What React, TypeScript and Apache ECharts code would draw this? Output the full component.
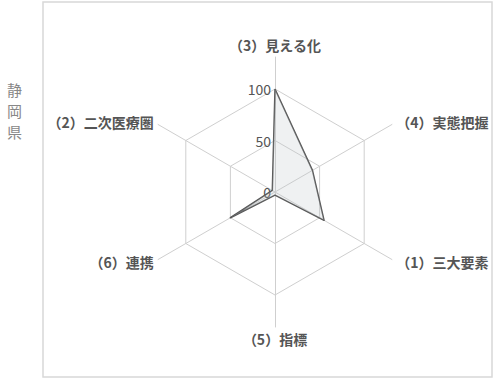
import React, { useEffect, useRef } from "react";
import * as echarts from "echarts";

const indicatorNames = ["（3）見える化", "（2）二次医療圏", "（6）連携", "（5）指標", "（1）三大要素", "（4）実態把握"];
const seriesValues = [100, 3, 50, 3, 55, 42];
const maxValue = 100;
const sideLabel = "静\n岡\n県";

export default function App() {
  const ref = useRef<HTMLDivElement>(null);
  useEffect(() => {
    if (!ref.current) return;
    const chart = echarts.init(ref.current, undefined, { renderer: "svg" });
    const font = "'Noto Sans CJK JP', 'Noto Sans', sans-serif";
    chart.setOption({
      animation: false,
      backgroundColor: "#fff",
      graphic: [
        {
          type: "rect",
          shape: { x: 43, y: 2, width: 449, height: 375 },
          style: { fill: "none", stroke: "#d8d8d8", lineWidth: 1.5 },
        },
        {
          type: "text",
          left: 7,
          top: 79,
          style: { text: sideLabel, font: `15px ${font}`, fill: "#888", lineHeight: 21 },
        },
      ],
      radar: [
        {
          center: [275, 192],
          radius: 135,
          startAngle: 90,
          shape: "polygon",
          indicator: indicatorNames.map((n) => ({ name: n, max: maxValue })),
          axisName: { color: "#555", fontSize: 14, fontWeight: "bold", fontFamily: font },
          nameGap: 5,
          splitNumber: 1,
          axisLine: { lineStyle: { color: "#cfcfcf", width: 1 } },
          splitLine: { show: false },
          splitArea: { show: false },
          axisTick: { show: false },
          axisLabel: { show: false },
        },
        {
          center: [275, 192],
          radius: 103,
          startAngle: 90,
          shape: "polygon",
          splitNumber: 2,
          indicator: indicatorNames.map((n, i) => ({
            name: n,
            max: maxValue,
            axisLabel: i === 0 ? { show: true } : { show: false },
          })),
          axisName: { show: false },
          axisLine: { show: false },
          splitLine: { lineStyle: { color: "#cfcfcf", width: 1 } },
          splitArea: { show: false },
          axisTick: { show: false },
          axisLabel: { show: false, color: "#555", fontSize: 14, fontFamily: font, margin: 4 },
        },
      ],
      series: [
        {
          type: "radar",
          radarIndex: 1,
          symbol: "none",
          lineStyle: { color: "#555", width: 1.5 },
          areaStyle: { color: "rgba(190,196,200,0.35)" },
          data: [{ value: seriesValues }],
        },
      ],
    });
    return () => chart.dispose();
  }, []);
  return <div ref={ref} style={{ position: "absolute", left: 0, top: 0, width: 497, height: 378 }} />;
}
